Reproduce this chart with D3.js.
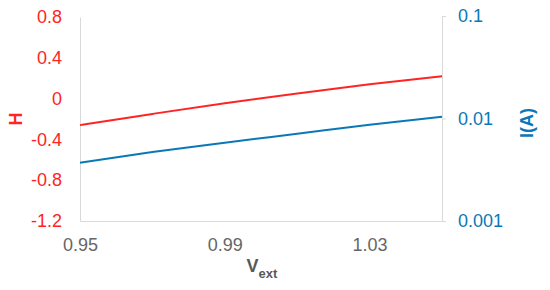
<!DOCTYPE html>
<html>
<head>
<meta charset="utf-8">
<script src="https://cdn.jsdelivr.net/npm/d3@7"></script>
<style>
  body { margin: 0; background: #fff; }
  svg { font-family: "Liberation Sans", Arial, sans-serif; }
</style>
</head>
<body>
<script>
// values
var vext   = [0.95, 0.97, 0.99, 1.01, 1.03, 1.05];
var hVals  = [-0.26, -0.15, -0.045, 0.05, 0.14, 0.22];
var iVals  = [0.0037, 0.0047, 0.0058, 0.0071, 0.0087, 0.0104];
var xTicks = [0.95, 0.99, 1.03];
var hTicks = [0.8, 0.4, 0, -0.4, -0.8, -1.2];
var iTicks = [0.1, 0.01, 0.001];

var red = "#ff2424", blue = "#0a78b8", grey = "#d9d9d9";

var svg = d3.select("body").append("svg")
  .attr("width", 550)
  .attr("height", 290);

var x = d3.scaleLinear().domain([0.95, 1.05]).range([80, 442]);
var yH = d3.scaleLinear().domain([-1.2, 0.8]).range([221, 17]);
var yI = d3.scaleLog().domain([0.001, 0.1]).range([221, 16]);

// axes
var leftAxis = svg.append("g").attr("transform", "translate(80,0)")
  .call(d3.axisLeft(yH).tickValues(hTicks).tickSize(0).tickPadding(18)
    .tickFormat(function(d){ return String(Math.round(d*10)/10); }));
leftAxis.select(".domain").attr("stroke", grey);
leftAxis.selectAll("text").attr("fill", red).style("font-size", "18px");

var rightAxis = svg.append("g").attr("transform", "translate(442,0)")
  .call(d3.axisRight(yI).tickValues(iTicks).tickSize(4).tickPadding(12)
    .tickFormat(function(d){ return String(d); }));
rightAxis.select(".domain").attr("stroke", grey);
rightAxis.selectAll("line").attr("stroke", grey);
rightAxis.selectAll("text").attr("fill", blue).style("font-size", "18px");

var bottomAxis = svg.append("g").attr("transform", "translate(0,221)")
  .call(d3.axisBottom(x).tickValues(xTicks).tickSize(0).tickPadding(17)
    .tickFormat(d3.format(".2f")));
bottomAxis.select(".domain").attr("stroke", grey);
bottomAxis.selectAll("text").attr("fill", "#666").style("font-size", "18px");

// lines
var lineH = d3.line()
  .x(function(d, i){ return x(vext[i]); })
  .y(function(d){ return yH(d); })
  .curve(d3.curveMonotoneX);

var lineI = d3.line()
  .x(function(d, i){ return x(vext[i]); })
  .y(function(d){ return yI(d); })
  .curve(d3.curveMonotoneX);

svg.append("path").datum(hVals)
  .attr("d", lineH).attr("fill", "none")
  .attr("stroke", red).attr("stroke-width", 2);

svg.append("path").datum(iVals)
  .attr("d", lineI).attr("fill", "none")
  .attr("stroke", blue).attr("stroke-width", 2);

// axis titles
svg.append("text")
  .attr("transform", "translate(22,119) rotate(-90)")
  .attr("text-anchor", "middle")
  .attr("fill", red).style("font-size", "18px").style("font-weight", "bold")
  .text("H");

svg.append("text")
  .attr("transform", "translate(533,123) rotate(-90)")
  .attr("text-anchor", "middle")
  .attr("fill", blue).style("font-size", "18px").style("font-weight", "bold")
  .text("I(A)");

var xt = svg.append("text")
  .attr("x", 262).attr("y", 272)
  .attr("text-anchor", "middle")
  .attr("fill", "#595959").style("font-size", "18px").style("font-weight", "bold");
xt.append("tspan").text("V");
xt.append("tspan").attr("dy", 6).style("font-size", "13px").text("ext");
</script>
</body>
</html>
